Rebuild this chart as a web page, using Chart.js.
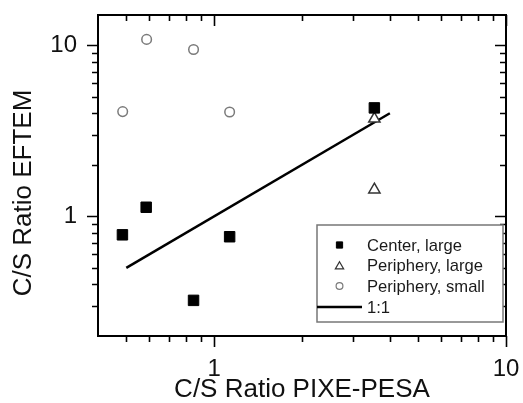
<!DOCTYPE html>
<html>
<head>
<meta charset="utf-8">
<script src="https://cdn.jsdelivr.net/npm/chart.js@4/dist/chart.umd.min.js"></script>
<style>
  html, body { margin: 0; padding: 0; background: #ffffff; }
  #wrap { width: 523px; height: 403px; position: relative; }
</style>
</head>
<body>
<div id="wrap"><canvas id="c" width="523" height="403"></canvas></div>
<script>
// ---- data ----
const centerLargeX = [0.485, 0.585, 0.85, 1.13, 3.54];
const centerLargeY = [0.78, 1.13, 0.323, 0.76, 4.30];
const periLargeX = [3.54, 3.54];
const periLargeY = [3.71, 1.43];
const periSmallX = [0.486, 0.587, 0.85, 1.13];
const periSmallY = [4.09, 10.8, 9.43, 4.07];
const oneToOneX = [0.5, 4];
const oneToOneY = [0.5, 4];

const seriesNames = ['Center, large', 'Periphery, large', 'Periphery, small', '1:1'];
const xTitle = 'C/S Ratio PIXE-PESA';
const yTitle = 'C/S Ratio EFTEM';

const xMajorTicks = [1, 10];
const xMinorTicks = [0.5, 0.6, 0.7, 0.8, 0.9, 2, 3, 4, 5, 6, 7, 8, 9];
const yMajorTicks = [1, 10];
const yMinorTicks = [0.3, 0.4, 0.5, 0.6, 0.7, 0.8, 0.9, 2, 3, 4, 5, 6, 7, 8, 9];
const xRange = [0.4, 10];
const yRange = [0.2, 15];

const pts = (xs, ys) => xs.map((x, i) => ({x: x, y: ys[i]}));
const FONT = "'Liberation Sans', Arial, Helvetica, sans-serif";

const datasets = [
  { label: seriesNames[0], data: pts(centerLargeX, centerLargeY), pointStyle: 'rect',
    pointRadius: 7.4, backgroundColor: '#000', borderColor: '#000', borderWidth: 1, showLine: false, order: 1 },
  { label: seriesNames[1], data: pts(periLargeX, periLargeY), pointStyle: 'triangle',
    pointRadius: 6.5, backgroundColor: '#fff', borderColor: '#333', borderWidth: 1.5, showLine: false, order: 2 },
  { label: seriesNames[2], data: pts(periSmallX, periSmallY), pointStyle: 'circle',
    pointRadius: 4.8, backgroundColor: '#fff', borderColor: '#7a7a7a', borderWidth: 1.5, showLine: false, order: 3 },
  { label: seriesNames[3], data: pts(oneToOneX, oneToOneY), showLine: true, pointRadius: 0,
    borderColor: '#000', borderWidth: 2.5, backgroundColor: '#000', order: 4 }
];

const frameAndTicks = {
  id: 'frameAndTicks',
  afterDraw(chart) {
    const ctx = chart.ctx, a = chart.chartArea;
    const xs = chart.scales.x, ys = chart.scales.y;
    ctx.save();
    ctx.strokeStyle = '#000';
    ctx.lineWidth = 2;
    ctx.lineCap = 'butt';
    ctx.strokeRect(a.left, a.top, a.right - a.left, a.bottom - a.top);
    ctx.lineWidth = 1.6;
    const drawX = (v, len) => {
      const p = Math.round(xs.getPixelForValue(v)) + 0.5;
      ctx.beginPath();
      ctx.moveTo(p, a.bottom); ctx.lineTo(p, a.bottom + len);
      ctx.moveTo(p, a.top); ctx.lineTo(p, a.top + len);
      ctx.stroke();
    };
    const drawY = (v, len) => {
      const p = Math.round(ys.getPixelForValue(v)) + 0.5;
      ctx.beginPath();
      ctx.moveTo(a.left, p); ctx.lineTo(a.left - len, p);
      ctx.moveTo(a.right, p); ctx.lineTo(a.right - len, p);
      ctx.stroke();
    };
    xMajorTicks.forEach(v => drawX(v, 11));
    xMinorTicks.forEach(v => drawX(v, 6));
    yMajorTicks.forEach(v => drawY(v, 11));
    yMinorTicks.forEach(v => drawY(v, 6));

    // y axis title (drawn as canvas text, rotated)
    ctx.save();
    ctx.translate(24, 193);
    ctx.rotate(-Math.PI / 2);
    ctx.font = '26px ' + FONT;
    ctx.fillStyle = '#111';
    ctx.textAlign = 'center';
    ctx.textBaseline = 'middle';
    ctx.fillText(yTitle, 0, 0);
    ctx.restore();

    // legend
    const L = 317, T = 225, R = 503, B = 322;
    ctx.fillStyle = '#fff';
    ctx.fillRect(L, T, R - L, B - T);
    ctx.strokeStyle = '#777';
    ctx.lineWidth = 1.5;
    ctx.strokeRect(L, T, R - L, B - T);
    const rows = [245, 265.5, 286, 307];
    const mx = 339.5, tx = 367;
    ctx.font = '16.6px ' + FONT;
    ctx.textBaseline = 'middle';
    ctx.textAlign = 'left';
    chart.data.datasets.forEach((ds, i) => {
      const y = rows[i];
      if (ds.showLine) {
        ctx.strokeStyle = ds.borderColor;
        ctx.lineWidth = 2.5;
        ctx.beginPath(); ctx.moveTo(L, y); ctx.lineTo(362, y); ctx.stroke();
      } else {
        const r = ds.pointStyle === 'rect' ? 4.4 : (ds.pointStyle === 'triangle' ? 4.8 : 3.4);
        const bw = ds.pointStyle === 'rect' ? 1 : 1.2;
        ctx.fillStyle = ds.backgroundColor;
        ctx.strokeStyle = ds.borderColor;
        ctx.lineWidth = bw;
        Chart.helpers.drawPoint(ctx, {pointStyle: ds.pointStyle, rotation: 0, radius: r, borderWidth: bw},
          mx, y + (ds.pointStyle === 'triangle' ? 1 : 0));
      }
      ctx.fillStyle = '#1a1a1a';
      ctx.fillText(ds.label, tx, y + 1);
    });
    ctx.restore();
  }
};

new Chart(document.getElementById('c'), {
  type: 'scatter',
  data: { datasets: datasets },
  options: {
    responsive: false,
    animation: false,
    events: [],
    layout: { padding: { left: 10, right: 17, top: 15, bottom: 0 } },
    plugins: { legend: { display: false }, tooltip: { enabled: false } },
    scales: {
      x: {
        type: 'logarithmic', position: 'bottom', min: xRange[0], max: xRange[1],
        afterBuildTicks: (s) => { s.ticks = xMajorTicks.map(v => ({value: v, major: true})); },
        afterFit: (s) => { s.height = 67; s.paddingLeft = 0; s.paddingRight = 0; },
        border: { display: false },
        grid: { display: true, drawOnChartArea: false, drawTicks: true, tickLength: 11, color: 'rgba(0,0,0,0)' },
        ticks: { color: '#111', font: { family: FONT, size: 24 }, padding: 8, maxRotation: 0,
                 callback: (v) => String(v) },
        title: { display: true, text: xTitle, color: '#111', font: { family: FONT, size: 26, lineHeight: 1 },
                 padding: { top: 0, bottom: 0 } }
      },
      y: {
        type: 'logarithmic', position: 'left', min: yRange[0], max: yRange[1],
        afterBuildTicks: (s) => { s.ticks = yMajorTicks.map(v => ({value: v, major: true})); },
        afterFit: (s) => { s.width = 88; s.paddingTop = 0; s.paddingBottom = 0; },
        border: { display: false },
        grid: { display: true, drawOnChartArea: false, drawTicks: true, tickLength: 11, color: 'rgba(0,0,0,0)' },
        ticks: { color: '#111', font: { family: FONT, size: 24 }, padding: 10,
                 callback: (v) => String(v) },
        title: { display: false }
      }
    }
  },
  plugins: [frameAndTicks]
});
</script>
</body>
</html>
